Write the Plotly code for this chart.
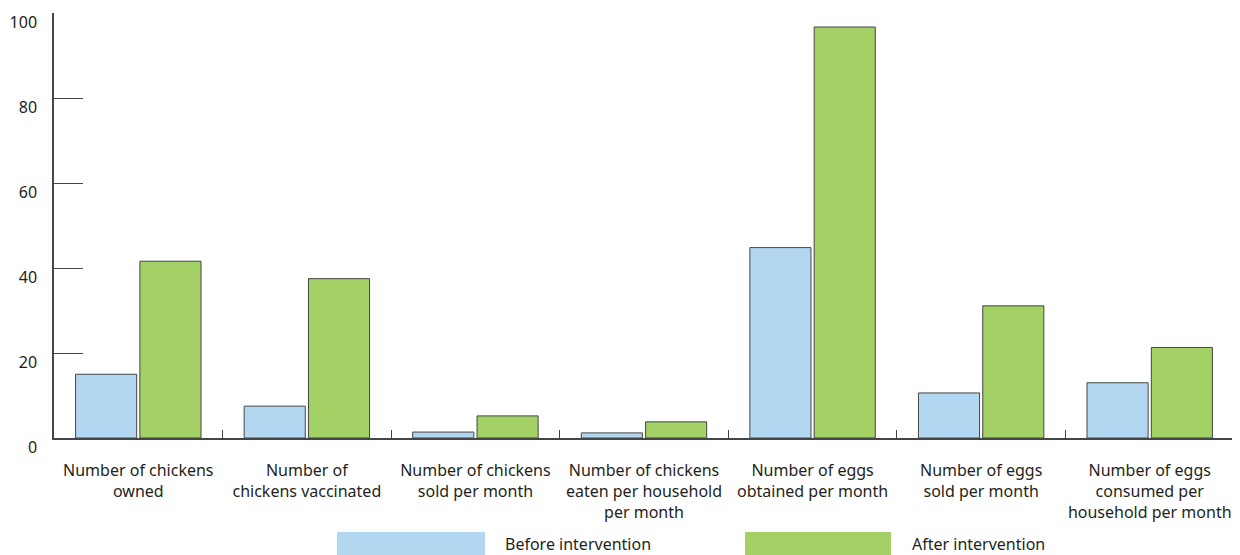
import plotly.graph_objects as go

categories = [
    "Number of chickens<br>owned",
    "Number of<br>chickens vaccinated",
    "Number of chickens<br>sold per month",
    "Number of chickens<br>eaten per household<br>per month",
    "Number of eggs<br>obtained per month",
    "Number of eggs<br>sold per month",
    "Number of eggs<br>consumed per<br>household per month",
]
series_names = ["Before intervention", "After intervention"]
before = [15.0, 7.5, 1.4, 1.2, 44.8, 10.6, 13.0]
after = [41.6, 37.5, 5.2, 3.8, 96.7, 31.1, 21.3]
y_ticks = [0, 20, 40, 60, 80, 100]

colors = ["#b3d7f0", "#a3d165"]
outline = "#454545"
text_color = "#231f20"
font_family = "Noto Sans"

# page has an 8px body margin; figure is sized to fit the 1240x555 window
OFF = 8
W, H = 1240 - OFF, 555 - OFF
PL, PR, PT, PB = 54, 1234, 13, 438  # plot area in window pixels

fig = go.Figure()
for name, vals, col in zip(series_names, [before, after], colors):
    fig.add_trace(go.Bar(
        x=categories, y=vals, name=name,
        marker=dict(color=col, line=dict(color=outline, width=1)),
        showlegend=False,
    ))

fig.update_layout(
    width=W, height=H,
    margin=dict(l=PL - OFF, r=1240 - PR, t=PT - OFF, b=H - (PB - OFF)),
    paper_bgcolor="white", plot_bgcolor="white",
    barmode="group", bargap=0.237, bargroupgap=0.05,
    font=dict(family=font_family, size=16, color=text_color),
)
fig.update_xaxes(
    showline=True, linecolor=outline, linewidth=1.5,
    ticks="inside", tickson="boundaries", ticklen=8, tickcolor=outline,
    showgrid=False, ticklabelstandoff=17, tickangle=0, automargin=False,
    tickfont=dict(size=16, color=text_color),
)
fig.update_yaxes(
    range=[0, 100], tickvals=y_ticks,
    showline=True, linecolor=outline, linewidth=1.5,
    ticks="inside", ticklen=29, tickcolor=outline, tickwidth=1.2,
    showgrid=False, zeroline=False, automargin=False,
    ticklabelshift=9, ticklabelstandoff=12,
    tickfont=dict(size=16, color=text_color),
)

def px_x(x):
    return (x - PL) / (PR - PL)

def px_y(y):
    return (PB - y) / (PB - PT)

# legend (manual, wide swatches)
legend_x = [(337, 485, 503), (745, 891, 910)]
for (x0, x1, tx), name, col in zip(legend_x, series_names, colors):
    fig.add_shape(type="rect", xref="paper", yref="paper",
                  x0=px_x(x0), x1=px_x(x1),
                  y0=px_y(556), y1=px_y(532),
                  fillcolor=col, line=dict(width=0))
    fig.add_annotation(xref="paper", yref="paper",
                       x=px_x(tx), y=px_y(544),
                       xanchor="left", yanchor="middle", text=name,
                       showarrow=False, font=dict(size=16, color=text_color))

fig.write_html("out.html")
